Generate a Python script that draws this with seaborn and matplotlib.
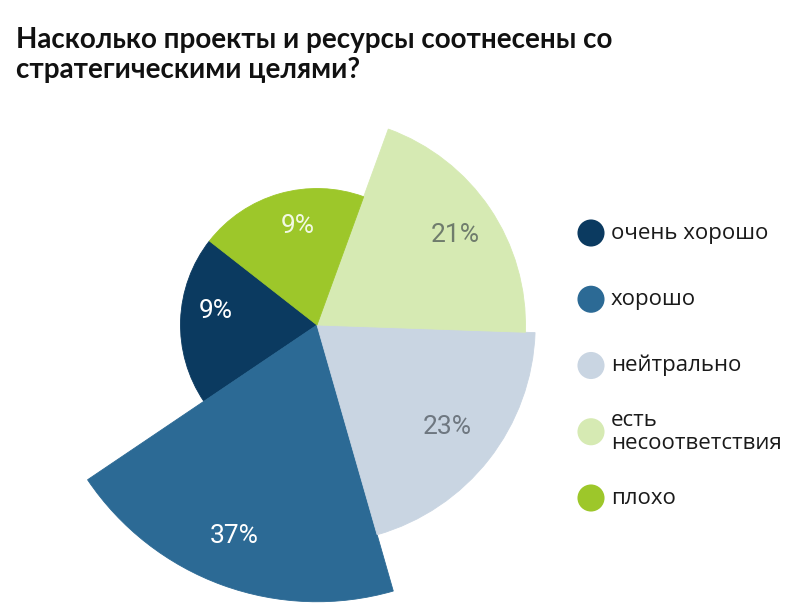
import numpy as np
import matplotlib
matplotlib.use("Agg")
import matplotlib.pyplot as plt
import seaborn as sns

# ---- data ----
categories = ["очень хорошо", "хорошо", "нейтрально", "есть\nнесоответствия", "плохо"]
values = [9, 37, 23, 21, 9]
labels = ["9%", "37%", "23%", "21%", "9%"]
title = "Насколько проекты и ресурсы соотнесены со\nстратегическими целями?"

# ---- style ----
colors = ["#0B3A60", "#2C6A95", "#C9D5E2", "#D6EAB3", "#9DC72A"]
label_colors = ["#FFFFFF", "#FFFFFF", "#6E7780", "#6F7C6C", "#F2F9E4"]
label_frac = [0.75, 0.82, 0.76, 0.79, 0.74]
label_shift_deg = [-6, -1.5, 0, -1, -5]

sns.set_theme(style="white")
plt.rcParams["font.family"] = ["Roboto", "DejaVu Sans"]

W, H = 800, 615
fig = plt.figure(figsize=(W / 100, H / 100), dpi=100)
fig.patch.set_facecolor("white")

# polar area chart, equal angles, radius ~ sqrt(value)
cx, cy, R = 317, 325, 285
PX_PER_UNIT = 45.5
ax = fig.add_axes([(cx - R) / W, (H - cy - R) / H, 2 * R / W, 2 * R / H], projection="polar")
n = len(values)
width = 2 * np.pi / n
theta = np.deg2rad(178) + width * np.arange(n)
radii = np.sqrt(values)
ax.bar(theta, radii, width=width, color=colors, edgecolor=colors, linewidth=0.6, align="center")
ax.set_ylim(0, R / PX_PER_UNIT)
ax.set_axis_off()

for t, r, lab, c, f, s in zip(theta, radii, labels, label_colors, label_frac, label_shift_deg):
    ax.text(t + np.deg2rad(s), r * f, lab, ha="center", va="center", fontsize=19,
            color=c, family=["Roboto", "DejaVu Sans"])

# legend drawn as category-indexed markers
lx0, ly0, ly1 = 591, 233, 498
ax_leg = fig.add_axes([lx0 / W, (H - ly1) / H, 200 / W, (ly1 - ly0) / H])
ax_leg.set_xlim(0, 200)
ax_leg.set_ylim(n - 1, 0)
sns.scatterplot(x=np.zeros(n), y=np.arange(n), hue=categories,
                palette=dict(zip(categories, colors)), s=380, legend=False,
                ax=ax_leg, clip_on=False, linewidth=0)
for i, cat in enumerate(categories):
    ax_leg.text(20, i, cat, ha="left", va="center", fontsize=16, color="#1A1A1A",
                family=["Open Sans", "DejaVu Sans"], linespacing=1.1)
ax_leg.set_axis_off()

fig.text(16 / W, 1 - 27 / H, title, ha="left", va="top", fontsize=20, fontweight="bold",
         color="#111111", family=["Lato", "DejaVu Sans"], linespacing=1.2)

fig.savefig("out.png", dpi=100, facecolor="white")
